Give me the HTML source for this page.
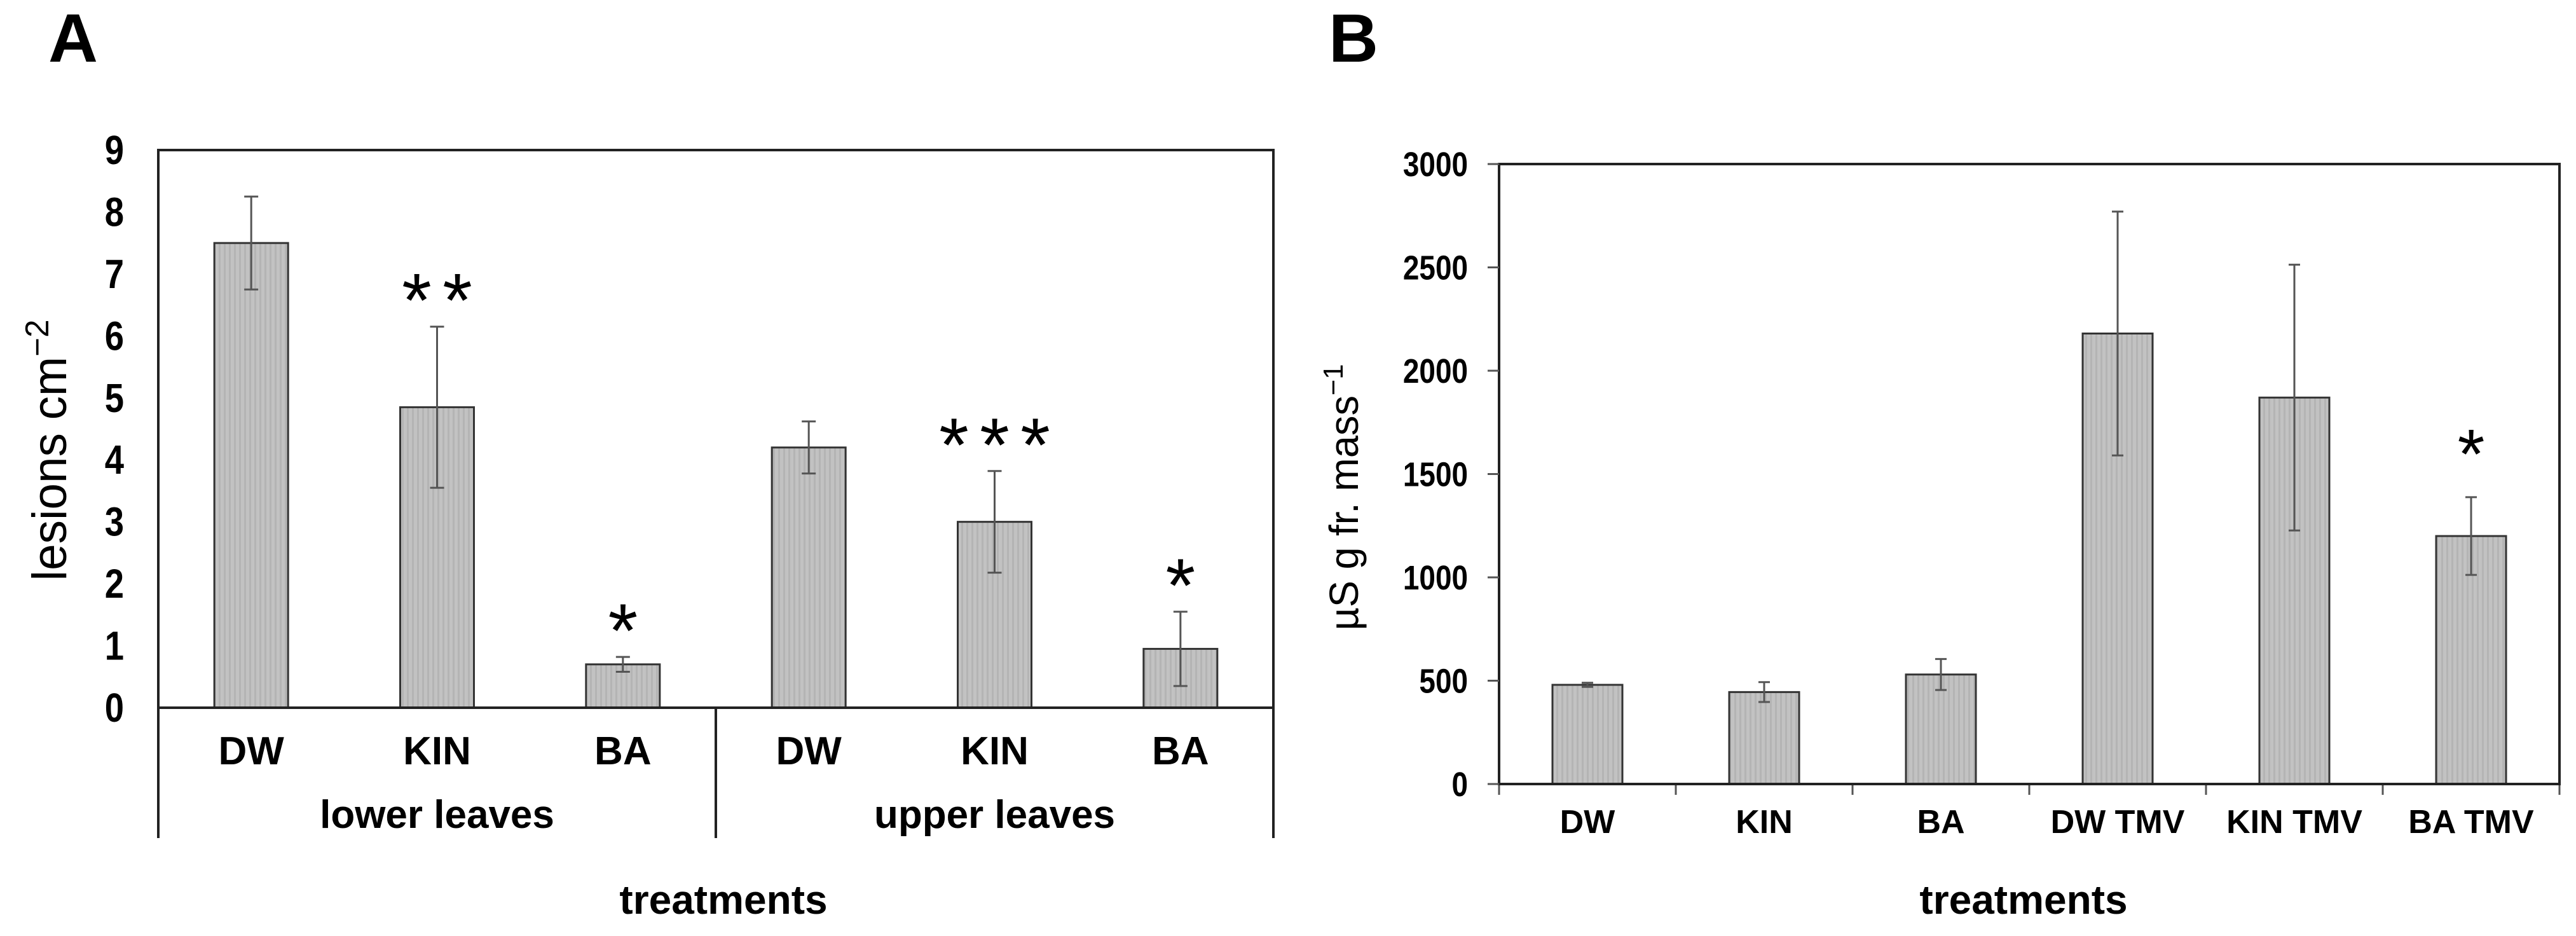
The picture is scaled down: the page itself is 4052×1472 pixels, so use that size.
<!DOCTYPE html>
<html><head><meta charset="utf-8"><style>
html,body{margin:0;padding:0;background:#fff;}
svg{display:block;}
text{font-family:"Liberation Sans",Arial,sans-serif;fill:#000;}
</style></head><body>
<svg id="fig" width="4052" height="1472" viewBox="0 0 4052 1472" xmlns="http://www.w3.org/2000/svg">
<defs>
<pattern id="dots" width="8" height="8" patternUnits="userSpaceOnUse">
<rect width="8" height="8" fill="#c2c2c2"/><rect x="0" y="0" width="3" height="8" fill="#b4b4b4"/>
</pattern>
</defs>
<g id="panelA"></g>
<g id="panelB"></g>
</svg>
<script>
// Panel A data
const aCategories = ["DW","KIN","BA","DW","KIN","BA"];
const aGroups = ["lower leaves","upper leaves"];
const aValues = [7.5, 4.85, 0.7, 4.2, 3.0, 0.95];
const aErrors = [0.75, 1.3, 0.12, 0.42, 0.82, 0.6];
const aStars = ["", "**", "*", "", "***", "*"];
const aTicks = [0,1,2,3,4,5,6,7,8,9];
// Panel B data
const bCategories = ["DW","KIN","BA","DW TMV","KIN TMV","BA TMV"];
const bValues = [480, 445, 530, 2180, 1870, 1200];
const bErrors = [10, 48, 75, 590, 643, 188];
const bStars = ["", "", "", "", "", "*"];
const bTicks = [0,500,1000,1500,2000,2500,3000];

const NS = "http://www.w3.org/2000/svg";
function mk(parent, tag, attrs, txt){
  const e = document.createElementNS(NS, tag);
  for (const k in attrs) e.setAttribute(k, attrs[k]);
  if (txt !== undefined) e.textContent = txt;
  parent.appendChild(e);
  return e;
}

// ---------- Panel A ----------
(function(){
  const g = document.getElementById('panelA');
  const L=249, R=2003, T=236, B=1113, yMax=9;
  const y = v => B - v*(B-T)/yMax;
  const cw = (R-L)/aCategories.length;
  const x = i => L + cw*(i+0.5);
  const bw = 116;

  let t = mk(g,'text',{x:76,y:97,'font-size':108,'font-weight':'bold'},'A');
  
  

  aValues.forEach((v,i)=>{
    const r = mk(g,'rect',{x:x(i)-bw/2,y:y(v),width:bw,height:B-y(v),fill:'url(#dots)',stroke:'#333','stroke-width':3});
    
    
    const eg = mk(g,'g',{stroke:'#555','stroke-width':3});
    
    
    mk(eg,'line',{x1:x(i),x2:x(i),y1:y(v+aErrors[i]),y2:y(v-aErrors[i])});
    mk(eg,'line',{x1:x(i)-11,x2:x(i)+11,y1:y(v+aErrors[i]),y2:y(v+aErrors[i])});
    mk(eg,'line',{x1:x(i)-11,x2:x(i)+11,y1:y(v-aErrors[i]),y2:y(v-aErrors[i])});
    const s = aStars[i];
    if (s){
      const sy = y(v+aErrors[i]) - 70;
      const n = s.length, sp = 64;
      for (let k=0;k<n;k++){
        const st = mk(g,'text',{x:x(i)+(k-(n-1)/2)*sp,y:sy+70,'font-size':120,'text-anchor':'middle'},'*');
        
        
      }
    }
    const cl = mk(g,'text',{x:x(i),y:1202,'font-size':62,'font-weight':'bold','text-anchor':'middle'},aCategories[i]);
    
    
  });

  const frame = mk(g,'rect',{x:L,y:T,width:R-L,height:B-T,fill:'none',stroke:'#222','stroke-width':4});
  
  
  [L,(L+R)/2,R].forEach(xx=>{
    const ln = mk(g,'line',{x1:xx,x2:xx,y1:B,y2:1318,stroke:'#222','stroke-width':4});
    
    
  });
  aGroups.forEach((gname,j)=>{
    const gt = mk(g,'text',{x:L+(R-L)/4*(2*j+1),y:1302,'font-size':62,'font-weight':'bold','text-anchor':'middle'},gname);
    
    
  });
  aTicks.forEach(tv=>{
    const tt = mk(g,'text',{x:0,y:0,'font-size':64,'font-weight':'bold','text-anchor':'end',transform:'translate(195,'+(y(tv)+22)+') scale(0.85,1)'},String(tv));
    
    
  });
  const yt = mk(g,'text',{transform:'translate(104,708) rotate(-90)','font-size':76,'text-anchor':'middle',textLength:411,lengthAdjust:'spacingAndGlyphs'});
  
  
  yt.innerHTML = 'lesions cm<tspan dy="-28" font-size="52">−2</tspan>';
  const xt = mk(g,'text',{x:1138,y:1437,'font-size':64,'font-weight':'bold','text-anchor':'middle'},'treatments');
  
  
})();

// ---------- Panel B ----------
(function(){
  const g = document.getElementById('panelB');
  const L=2358, R=4026, T=258, B=1233, yMax=3000;
  const y = v => B - v*(B-T)/yMax;
  const cw = (R-L)/bCategories.length;
  const x = i => L + cw*(i+0.5);
  const bw = 110;

  let t = mk(g,'text',{x:2090,y:97,'font-size':108,'font-weight':'bold'},'B');
  
  

  bValues.forEach((v,i)=>{
    const r = mk(g,'rect',{x:x(i)-bw/2,y:y(v),width:bw,height:B-y(v),fill:'url(#dots)',stroke:'#333','stroke-width':3});
    
    
    const eg = mk(g,'g',{stroke:'#555','stroke-width':3});
    
    
    mk(eg,'line',{x1:x(i),x2:x(i),y1:y(v+bErrors[i]),y2:y(v-bErrors[i])});
    mk(eg,'line',{x1:x(i)-9,x2:x(i)+9,y1:y(v+bErrors[i]),y2:y(v+bErrors[i])});
    mk(eg,'line',{x1:x(i)-9,x2:x(i)+9,y1:y(v-bErrors[i]),y2:y(v-bErrors[i])});
    if (bStars[i]){
      const st = mk(g,'text',{x:x(i),y:y(v+bErrors[i])-100+70,'font-size':110,'text-anchor':'middle'},bStars[i]);
      
      
    }
    const cl = mk(g,'text',{x:x(i),y:1310,'font-size':52,'font-weight':'bold','text-anchor':'middle'},bCategories[i]);
    
    
  });
  for (let i=0;i<=bCategories.length;i++){
    mk(g,'line',{x1:L+cw*i,x2:L+cw*i,y1:B,y2:B+17,stroke:'#555','stroke-width':3});
  }
  const frame = mk(g,'rect',{x:L,y:T,width:R-L,height:B-T,fill:'none',stroke:'#222','stroke-width':4});
  
  
  bTicks.forEach(tv=>{
    mk(g,'line',{x1:L-18,x2:L,y1:y(tv),y2:y(tv),stroke:'#555','stroke-width':3});
    const tt = mk(g,'text',{x:0,y:0,'font-size':54,'font-weight':'bold','text-anchor':'end',transform:'translate(2309,'+(y(tv)+19)+') scale(0.85,1)'},String(tv));
    
    
  });
  const yt = mk(g,'text',{transform:'translate(2136,782) rotate(-90)','font-size':64,'text-anchor':'middle',textLength:419,lengthAdjust:'spacingAndGlyphs'});
  
  
  yt.innerHTML = 'µS g fr. mass<tspan dy="-24" font-size="44">−1</tspan>';
  const xt = mk(g,'text',{x:3183,y:1437,'font-size':64,'font-weight':'bold','text-anchor':'middle'},'treatments');
  
  
})();
</script>
</body></html>
